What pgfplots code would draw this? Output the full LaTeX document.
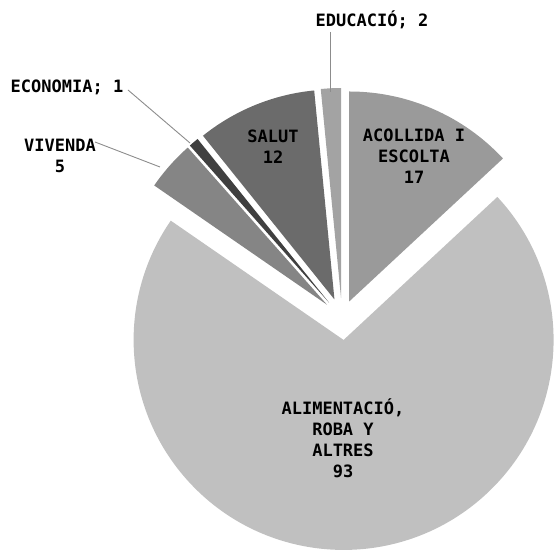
\documentclass[border=0pt]{standalone}
\usepackage{fontspec}
\setmainfont{DejaVu Sans Mono}
\usepackage{pgfplots}
\usepackage{pgfplotstable}
\pgfplotsset{compat=1.18}

\definecolor{cAcol}{HTML}{9A9A9A}
\definecolor{cAli}{HTML}{C0C0C0}
\definecolor{cViv}{HTML}{858585}
\definecolor{cEco}{HTML}{404040}
\definecolor{cSal}{HTML}{6B6B6B}
\definecolor{cEdu}{HTML}{A3A3A3}
\definecolor{leader}{HTML}{8C8C8C}

% value = count, explode = offset of the slice from the centre
\pgfplotstableread{
idx value explode color
0   17    18      cAcol
1   93    22      cAli
2   5     20      cViv
3   1     20      cEco
4   12    20      cSal
5   2     20      cEdu
}\piedata

\begin{document}
\begin{tikzpicture}
% running sums -> slice angles (clockwise from 12 o'clock)
\xdef\pietotal{0}
\pgfplotstableforeachcolumnelement{value}\of\piedata\as\pval{%
  \pgfmathsetmacro\ptmp{\pietotal+\pval}\xdef\pietotal{\ptmp}}
\xdef\piecum{0}
\pgfplotsinvokeforeach{0,...,5}{%
  \pgfplotstablegetelem{#1}{value}\of\piedata \let\pval\pgfplotsretval
  \pgfplotstablegetelem{#1}{explode}\of\piedata \let\pexp\pgfplotsretval
  \pgfplotstablegetelem{#1}{color}\of\piedata \expandafter\xdef\csname pcol#1\endcsname{\pgfplotsretval}
  \pgfmathsetmacro\pst{90-360*(\piecum/\pietotal)}
  \pgfmathsetmacro\ptmp{\piecum+\pval}\xdef\piecum{\ptmp}
  \pgfmathsetmacro\pen{90-360*(\piecum/\pietotal)}
  \pgfmathsetmacro\pmid{(\pst+\pen)/2}
  \pgfmathsetmacro\pax{342+\pexp*cos(\pmid)}
  \pgfmathsetmacro\pay{235+\pexp*sin(\pmid)}
  \pgfmathsetmacro\pbx{\pax+210*cos(\pst)}
  \pgfmathsetmacro\pby{\pay+210*sin(\pst)}
  \expandafter\xdef\csname pst#1\endcsname{\pst}
  \expandafter\xdef\csname pen#1\endcsname{\pen}
  \expandafter\xdef\csname pax#1\endcsname{\pax}
  \expandafter\xdef\csname pay#1\endcsname{\pay}
  \expandafter\xdef\csname pbx#1\endcsname{\pbx}
  \expandafter\xdef\csname pby#1\endcsname{\pby}
}
\begin{axis}[
  name=pie,
  x=1pt, y=1pt,
  xmin=0, xmax=555, ymin=0, ymax=553,
  axis lines=none,
  clip=false,
  disabledatascaling,
]
\pgfplotsinvokeforeach{0,...,5}{
  \fill[\csname pcol#1\endcsname]
    (axis cs:\csname pax#1\endcsname,\csname pay#1\endcsname)
    -- (axis cs:\csname pbx#1\endcsname,\csname pby#1\endcsname)
    arc[start angle=\csname pst#1\endcsname, end angle=\csname pen#1\endcsname, radius=210pt]
    -- cycle;
}
% leader lines
\draw[leader, line width=0.9pt] (axis cs:330,521) -- (axis cs:330,461);
\draw[leader, line width=0.9pt] (axis cs:128,463) -- (axis cs:190,410);
\draw[leader, line width=0.9pt] (axis cs:95,411) -- (axis cs:160,386);
% labels
\begin{scope}[every node/.style={font=\fontsize{17}{21}\selectfont\bfseries, align=center, inner sep=0pt}]
\node at (axis cs:372,533) {EDUCACIÓ; 2};
\node at (axis cs:67,466) {ECONOMIA; 1};
\node at (axis cs:60,397) {VIVENDA\\5};
\node at (axis cs:273,406) {SALUT\\12};
\node at (axis cs:414,397) {ACOLLIDA I\\ESCOLTA\\17};
\node at (axis cs:343,115) {ALIMENTACIÓ,\\ROBA Y\\ALTRES\\93};
\end{scope}
\end{axis}
\pgfresetboundingbox
\path (pie.south west) rectangle (pie.north east);
\end{tikzpicture}
\end{document}
